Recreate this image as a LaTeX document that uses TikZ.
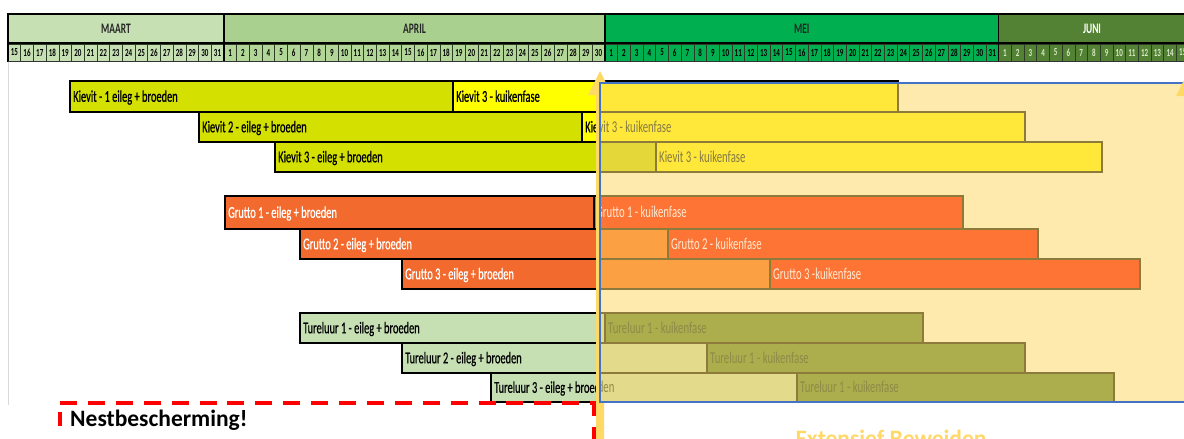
\documentclass[tikz,border=0pt]{standalone}
\usepackage{fontspec}
\setmainfont{Carlito}
\newfontfamily\condfam[FakeStretch=0.65]{Carlito}
\newfontfamily\condboldfam[FakeStretch=0.63,FakeBold=0.6]{Carlito}
\newcommand\nlblfont{\condboldfam\fontsize{16.5}{16.5}\selectfont}
\newcommand\flblfont{\condfam\fontsize{16.5}{16.5}\selectfont}
\newcommand\dayfont{\condfam\bfseries\fontsize{10.8}{10.8}\selectfont}
\newcommand\monfont{\condfam\bfseries\fontsize{14.5}{14.5}\selectfont}
\newcommand\bigfont{\bfseries\fontsize{23.5}{23.5}\selectfont}

\definecolor{mMaart}{HTML}{C6E0B4}
\definecolor{mApril}{HTML}{A9D08E}
\definecolor{dApril}{HTML}{B2D698}
\definecolor{mMei}{HTML}{00B050}
\definecolor{mJuni}{HTML}{548235}
\definecolor{juniTxt}{HTML}{D8EBC8}
\definecolor{dayBd}{HTML}{2E3D26}
% unfaded
\definecolor{nkE}{HTML}{D4E100}
\definecolor{nkK}{HTML}{FFFF00}
\definecolor{ngE}{HTML}{F26A2E}
\definecolor{ngK}{HTML}{F26A2E}
\definecolor{ntE}{HTML}{C6E0B4}
\definecolor{ntK}{HTML}{C6E0B4}
\definecolor{nBd}{HTML}{000000}
\definecolor{nkT}{HTML}{000000}
\definecolor{ngT}{HTML}{FFFFFF}
\definecolor{ntT}{HTML}{000000}
% faded
\definecolor{fkE}{HTML}{E3D73A}
\definecolor{fkK}{HTML}{FFE83A}
\definecolor{fgE}{HTML}{FBA144}
\definecolor{fgK}{HTML}{FE7434}
\definecolor{ftE}{HTML}{E4DA8C}
\definecolor{ftK}{HTML}{ACAE4E}
\definecolor{fBd}{HTML}{8C7B3B}
\definecolor{fkT}{HTML}{857A45}
\definecolor{fgT}{HTML}{FFE9D2}
\definecolor{ftT}{HTML}{8D8A47}
\definecolor{fBg}{HTML}{FFEAAE}
\definecolor{arrowc}{HTML}{FFD966}
\definecolor{blueb}{HTML}{4472C4}
\definecolor{nestred}{HTML}{FF0000}

% #1 top #2 bottom #3 xs #4 xm #5 xe #6 fillE #7 fillK #8 border
\newcommand\barrow[8]{%
  \fill[#6] (#3,#1) rectangle (#4,#2);
  \fill[#7] (#4,#1) rectangle (#5,#2);
  \draw[#8, line width=1.2pt] (#4,#1) -- (#4,#2);
  \draw[#8, line width=2.6pt] (#3,#1) rectangle (#5,#2);
}
% #1 pass #2 name #3 x #4 baseline y #5 colour #6 text
\newcommand\lbl[6]{%
  \node[font=\csname #1lblfont\endcsname, text=#5, anchor=base west, inner sep=0pt] (#2) at (#3,#4) {#6};
}
\newcommand\allbars[1]{%
  \barrow{81}{112}{70}{453}{898}{#1kE}{#1kK}{#1Bd}%
  \barrow{112}{142}{199}{582}{1025}{#1kE}{#1kK}{#1Bd}%
  \barrow{142}{172}{275}{656}{1102}{#1kE}{#1kK}{#1Bd}%
  \barrow{196}{229}{225}{594}{963}{#1gE}{#1gK}{#1Bd}%
  \barrow{229}{259}{300}{668}{1038}{#1gE}{#1gK}{#1Bd}%
  \barrow{259}{289}{402}{770}{1140}{#1gE}{#1gK}{#1Bd}%
  \barrow{313}{343}{300}{605}{923}{#1tE}{#1tK}{#1Bd}%
  \barrow{343}{373}{402}{707}{1025}{#1tE}{#1tK}{#1Bd}%
  \barrow{373}{402}{491}{797}{1114}{#1tE}{#1tK}{#1Bd}%
}
% labels that lie (at least partly) left of the faded area
\newcommand\leftlabels{%
  \lbl{n}{k1e}{73}{101.8}{nkT}{Kievit - 1 eileg + broeden}%
  \lbl{n}{k1k}{456}{101.8}{nkT}{Kievit 3 - kuikenfase}%
  \lbl{n}{k2e}{202}{132.3}{nkT}{Kievit 2 - eileg + broeden}%
  \lbl{n}{k2k}{585}{132.3}{nkT}{Kievit 3 - kuikenfase}%
  \lbl{n}{k3e}{278}{162.3}{nkT}{Kievit 3 - eileg + broeden}%
  \lbl{n}{g1e}{228}{217.8}{ngT}{Grutto 1 - eileg + broeden}%
  \lbl{n}{g1k}{596}{217.8}{ngT}{Grutto 1 - kuikenfase}%
  \lbl{n}{g2e}{303}{249.3}{ngT}{Grutto 2 - eileg + broeden}%
  \lbl{n}{g3e}{405}{279.3}{ngT}{Grutto 3 - eileg + broeden}%
  \lbl{n}{t1e}{303}{333.3}{ntT}{Tureluur 1 - eileg + broeden}%
  \lbl{n}{t2e}{405}{363.3}{ntT}{Tureluur 2 - eileg + broeden}%
  \lbl{n}{t3e}{494}{392.8}{ntT}{Tureluur 3 - eileg + broeden}%
}
% labels that lie (at least partly) in the faded area
\newcommand\rightlabels{%
  \lbl{f}{fk2k}{585}{132.3}{fkT}{Kievit 3 - kuikenfase}%
  \lbl{f}{k3k}{659}{162.3}{fkT}{Kievit 3 - kuikenfase}%
  \lbl{f}{fg1k}{596}{217.8}{fgT}{Grutto 1 - kuikenfase}%
  \lbl{f}{g2k}{671}{249.3}{fgT}{Grutto 2 - kuikenfase}%
  \lbl{f}{g3k}{773}{279.3}{fgT}{Grutto 3 -kuikenfase}%
  \lbl{f}{t1k}{608}{333.3}{ftT}{Tureluur 1 - kuikenfase}%
  \lbl{f}{t2k}{710}{363.3}{ftT}{Tureluur 1 - kuikenfase}%
  \lbl{f}{ft3e}{494}{392.8}{ftT}{Tureluur 3 - eileg + broeden}%
  \lbl{f}{t3k}{800}{392.8}{ftT}{Tureluur 1 - kuikenfase}%
}

\begin{document}
\begin{tikzpicture}[x=1pt,y=-1pt]
\useasboundingbox (0,0) rectangle (1184,439);
\clip (0,0) rectangle (1184,439);
\fill[white] (0,0) rectangle (1184,439);

% ---- header: months
\def\xM{223.9}\def\xA{604.9}\def\xJ{998.6}
\fill[mMaart] (8,14) rectangle (\xM,42);
\fill[mApril] (\xM,14) rectangle (\xA,42);
\fill[mMei] (\xA,14) rectangle (\xJ,42);
\fill[mJuni] (\xJ,14) rectangle (1184,42);
\node[font=\monfont, text=black!85] (maart) at (116,28.5) {MAART};
\node[font=\monfont, text=black!85] (april) at (414.5,28.5) {APRIL};
\node[font=\monfont, text=black!85] (mei) at (801.8,28.5) {MEI};
\node[font=\monfont, text=white] (juni) at (1092,28.5) {JUNI};

% ---- header: days
\foreach \i in {0,...,92}{
  \pgfmathsetmacro\xa{8+12.7*\i}
  \pgfmathsetmacro\xb{8+12.7*(\i+1)}
  \ifnum\i<17 \def\dcol{mMaart}\pgfmathtruncatemacro\dn{15+\i}\def\tcol{black}%
  \else\ifnum\i<47 \def\dcol{dApril}\pgfmathtruncatemacro\dn{\i-16}\def\tcol{black}%
  \else\ifnum\i<78 \def\dcol{mMei}\pgfmathtruncatemacro\dn{\i-46}\def\tcol{black}%
  \else \def\dcol{mJuni}\pgfmathtruncatemacro\dn{\i-77}\def\tcol{juniTxt}%
  \fi\fi\fi
  \draw[draw=dayBd, line width=0.6pt, fill=\dcol] (\xa,44) rectangle (\xb,61);
  \node[font=\dayfont, text=\tcol, inner sep=0pt] (d\i) at ({(\xa+\xb)/2},52.5) {\dn};
}
\draw[black, line width=2pt] (7,14) -- (1184,14);
\draw[black, line width=1.6pt] (8,42.8) -- (1184,42.8);
\draw[black, line width=1.6pt] (8,13) -- (8,61.5);
\foreach \xx in {\xM,\xA,\xJ} \draw[black, line width=1.6pt] (\xx,14) -- (\xx,61.5);
\draw[black!80, line width=0.8pt] (8,61.5) -- (1184,61.5);

% faint left rule
\draw[black!15, line width=1pt] (8.5,62) -- (8.5,405);

% ---- bars (unfaded)
\allbars{n}
\leftlabels

% ---- arrow at the start of May
\fill[arrowc] (596,439) -- (596,95) -- (588,95) -- (600,71) -- (612,95) -- (604,95) -- (604,439) -- cycle;

% ---- faded area (Extensief beweiden)
\begin{scope}
  \clip (600,83) rectangle (1184,402);
  \fill[fBg] (600,83) rectangle (1184,402);
  \allbars{f}
  \rightlabels
\end{scope}
\draw[blueb, line width=1.3pt] (1185,83) -- (600,83) -- (600,402) -- (1185,402);

% right arrow, at the edge
\fill[arrowc] (1184,439) -- (1184,96) -- (1176,96) -- (1188,72) -- (1200,96) -- (1192,96) -- (1192,439) -- cycle;

% ---- Nestbescherming box
\coordinate (nbL) at (60,439);
\coordinate (nbC) at (60,403);
\coordinate (nbR) at (594,403);
\coordinate (nbB) at (594,439);
\draw[nestred, line width=4pt, dash pattern=on 17pt off 10.9pt] (nbC) -- (nbR) -- (nbB);
\draw[nestred, line width=4pt, dash pattern=on 14pt off 13.9pt] (60,412) -- (nbL);
\node[font=\bigfont, text=black, anchor=base west, inner sep=0pt] (nest) at (70,426) {Nestbescherming!};
\node[font=\bigfont, text=arrowc, anchor=base, inner sep=0pt] (ext) at (891,446) {Extensief Beweiden};
\end{tikzpicture}
\end{document}
